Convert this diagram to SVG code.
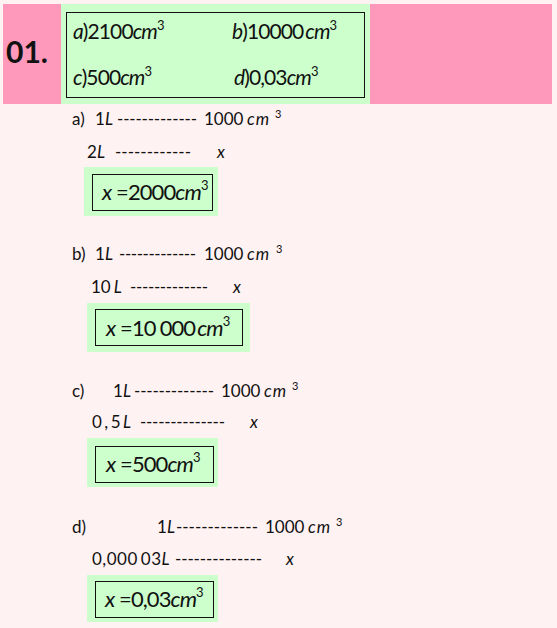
<svg xmlns="http://www.w3.org/2000/svg" width="557" height="628" viewBox="0 0 557 628">
<style>
text{font-family:Lato,"Open Sans","Liberation Sans",sans-serif;fill:#111}
.t{font-size:17px}
.i{font-style:italic}
.cm{letter-spacing:1px}
.sup{font-size:11px}
.ans{font-size:21px;letter-spacing:-0.9px}
.ans .sup{font-size:13px;letter-spacing:0}
.res{font-size:22px;letter-spacing:-0.9px}
.res .sup{font-size:13px;letter-spacing:0}
.g{fill:#ccffcc}
.b{fill:none;stroke:#111;stroke-width:1}
.d{font-size:17px}
</style>
<rect width="557" height="628" fill="#fff2f2"/>
<g id="header">
<rect x="3" y="4" width="549" height="100" fill="#ff99bb"/>
<rect x="61" y="4" width="309" height="100" class="g"/>
<rect x="66.5" y="12.5" width="298" height="85" class="b"/>
<text x="6" y="63" font-weight="bold" style="font-size:30px">01.</text>
<text class="ans" x="73" y="39"><tspan class="i">a</tspan>)2100<tspan class="i">cm</tspan><tspan class="sup" dy="-9">3</tspan></text>
<text class="ans" x="232" y="39"><tspan class="i">b</tspan>)10000<tspan class="i" dx="2">cm</tspan><tspan class="sup" dy="-9">3</tspan></text>
<text class="ans" x="73" y="85"><tspan class="i">c</tspan>)500<tspan class="i">cm</tspan><tspan class="sup" dy="-9">3</tspan></text>
<text class="ans" x="234" y="85"><tspan class="i">d</tspan>)0,03<tspan class="i">cm</tspan><tspan class="sup" dy="-9">3</tspan></text>
</g>
<g id="part-a">
<text class="t" x="72" y="125">a)</text>
<text class="t" x="95" y="125">1<tspan class="i">L</tspan></text>
<text class="d" x="117" y="125" textLength="80" lengthAdjust="spacing">-------------</text>
<text class="t" x="204" y="125">1000</text>
<text class="t i cm" x="247" y="125">cm</text>
<text class="sup" x="275" y="118">3</text>
<text class="t" x="87" y="158">2<tspan class="i">L</tspan></text>
<text class="d" x="115" y="158" textLength="76" lengthAdjust="spacing">------------</text>
<text class="t i" x="217" y="158">x</text>
<rect x="84" y="167" width="134" height="49" class="g"/>
<rect x="92.5" y="174.5" width="120" height="36" class="b"/>
<text class="res" x="102" y="200"><tspan class="i">x</tspan> =2000<tspan class="i">cm</tspan><tspan class="sup" dy="-10">3</tspan></text>
</g>
<g id="part-b">
<text class="t" x="72" y="260">b)</text>
<text class="t" x="95" y="260">1<tspan class="i">L</tspan></text>
<text class="d" x="119" y="260" textLength="77" lengthAdjust="spacing">-------------</text>
<text class="t" x="204" y="260">1000</text>
<text class="t i cm" x="247" y="260">cm</text>
<text class="sup" x="276" y="253">3</text>
<text class="t" x="91" y="293">10<tspan class="i" dx="3">L</tspan></text>
<text class="d" x="130" y="293" textLength="78" lengthAdjust="spacing">-------------</text>
<text class="t i" x="233" y="293">x</text>
<rect x="87" y="303" width="163" height="49" class="g"/>
<rect x="95.5" y="309.5" width="147" height="36" class="b"/>
<text class="res" x="106" y="336"><tspan class="i">x</tspan> =10<tspan dx="4">000</tspan><tspan class="i" dx="2">cm</tspan><tspan class="sup" dy="-10">3</tspan></text>
</g>
<g id="part-c">
<text class="t" x="72" y="397">c)</text>
<text class="t" x="113" y="397">1<tspan class="i">L</tspan></text>
<text class="d" x="134" y="397" textLength="80" lengthAdjust="spacing">-------------</text>
<text class="t" x="221" y="397">1000</text>
<text class="t i cm" x="264" y="397">cm</text>
<text class="sup" x="292" y="390">3</text>
<text class="t" x="92" y="428" letter-spacing="2.5">0,5<tspan class="i">L</tspan></text>
<text class="d" x="140" y="428" textLength="85" lengthAdjust="spacing">--------------</text>
<text class="t i" x="250" y="428">x</text>
<rect x="87" y="438" width="131" height="49" class="g"/>
<rect x="95.5" y="446.5" width="118" height="36" class="b"/>
<text class="res" x="106" y="472"><tspan class="i">x</tspan> =500<tspan class="i">cm</tspan><tspan class="sup" dy="-10">3</tspan></text>
</g>
<g id="part-d">
<text class="t" x="72" y="533">d)</text>
<text class="t" x="157" y="533">1<tspan class="i">L</tspan></text>
<text class="d" x="176" y="533" textLength="82" lengthAdjust="spacing">-------------</text>
<text class="t" x="265" y="533">1000</text>
<text class="t i cm" x="308" y="533">cm</text>
<text class="sup" x="336" y="526">3</text>
<text class="t" x="92" y="565" letter-spacing="0.5">0,000<tspan dx="3">03</tspan><tspan class="i">L</tspan></text>
<text class="d" x="175" y="565" textLength="87" lengthAdjust="spacing">--------------</text>
<text class="t i" x="286" y="565">x</text>
<rect x="87" y="575" width="131" height="47" class="g"/>
<rect x="95.5" y="581.5" width="118" height="36" class="b"/>
<text class="res" x="105" y="607"><tspan class="i">x</tspan> =0,03<tspan class="i">cm</tspan><tspan class="sup" dy="-10">3</tspan></text>
</g>
</svg>
